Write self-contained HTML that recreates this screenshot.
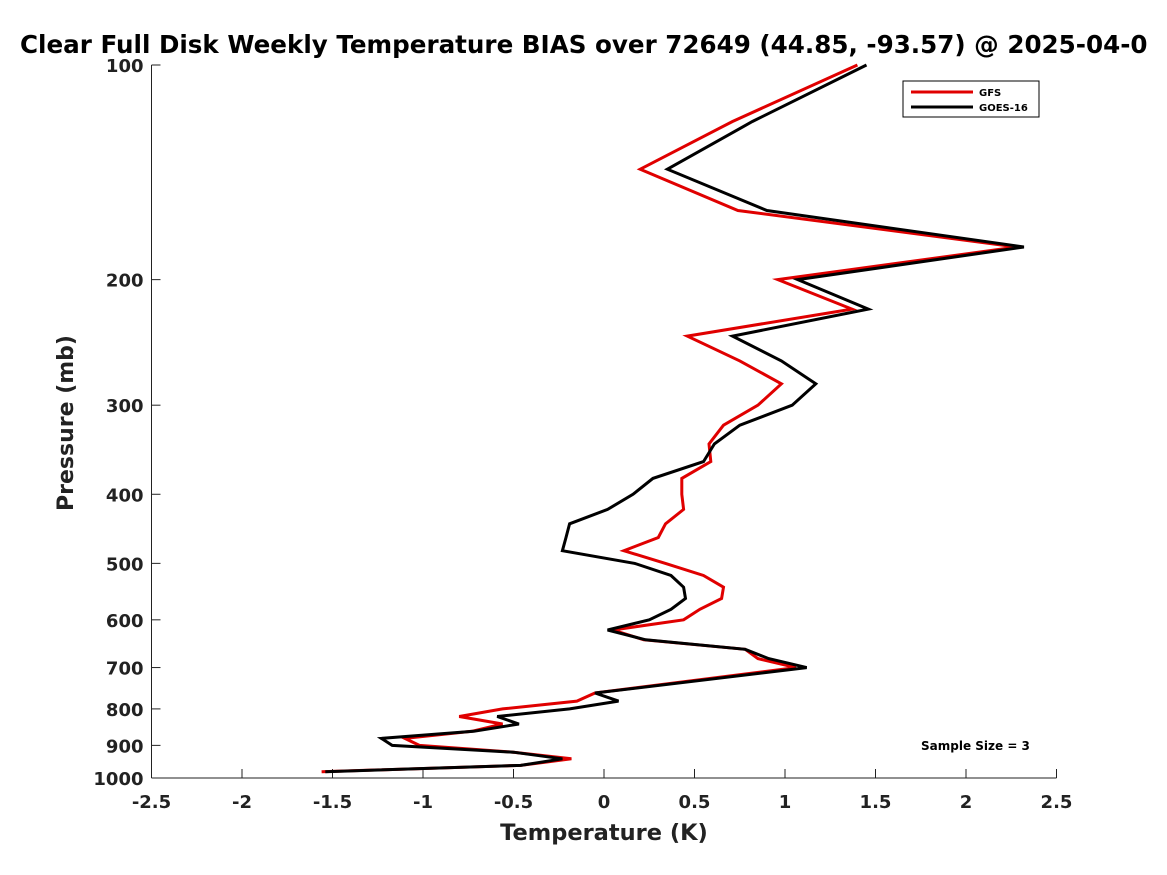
<!DOCTYPE html>
<html><head><meta charset="utf-8"><style>
html,body{margin:0;padding:0;background:#fff;overflow:hidden;}
svg{display:block;font-family:"DejaVu Sans","Liberation Sans",sans-serif;font-weight:bold;}
</style></head><body>
<svg id="chart" width="1167" height="875" viewBox="0 0 1167 875">
<text x="20" y="53" font-size="24.6" fill="#000">Clear Full Disk Weekly Temperature BIAS over 72649 (44.85, -93.57) @ 2025-04-0</text>
<g id="axes"></g>
<g id="series"></g>
<g>
<rect x="903" y="81" width="136" height="36" fill="#fff" stroke="#000" stroke-width="1"/>
<line x1="911" y1="92" x2="973" y2="92" stroke="#e00000" stroke-width="3"/>
<text x="979" y="96" font-size="10">GFS</text>
<line x1="911" y1="107" x2="973" y2="107" stroke="#000" stroke-width="3"/>
<text x="979" y="111" font-size="10">GOES-16</text>
</g>
<text x="921" y="750" font-size="12">Sample Size = 3</text>
<text x="604" y="840" font-size="22.5" text-anchor="middle" fill="#222">Temperature (K)</text>
<text transform="translate(73,423) rotate(-90)" font-size="22" text-anchor="middle" fill="#222">Pressure (mb)</text>
</svg>
<script>
const levels=[100,120,140,160,180,200,220,240,260,280,300,320,340,360,380,400,420,440,460,480,500,520,540,560,580,600,620,640,660,680,700,760,780,800,820,840,860,880,900,920,940,960,980];
const gfsBias=[1.40,0.71,0.20,0.74,2.28,0.96,1.37,0.46,0.75,0.98,0.85,0.66,0.58,0.59,0.43,0.43,0.44,0.34,0.30,0.11,0.34,0.55,0.66,0.65,0.53,0.44,0.05,0.22,0.78,0.85,1.06,-0.05,-0.15,-0.56,-0.80,-0.56,-0.73,-1.10,-1.02,-0.50,-0.18,-0.46,-1.56];
const goesBias=[1.45,0.82,0.35,0.90,2.32,1.07,1.46,0.71,0.98,1.17,1.04,0.75,0.61,0.55,0.27,0.16,0.02,-0.19,-0.21,-0.23,0.17,0.37,0.44,0.45,0.37,0.25,0.02,0.23,0.78,0.91,1.12,-0.05,0.08,-0.19,-0.59,-0.47,-0.72,-1.23,-1.17,-0.50,-0.23,-0.46,-1.54];
const xTicks=[-2.5,-2,-1.5,-1,-0.5,0,0.5,1,1.5,2,2.5];
const xTickLabels=["-2.5","-2","-1.5","-1","-0.5","0","0.5","1","1.5","2","2.5"];
const yTicks=[100,200,300,400,500,600,700,800,900,1000];
const yTickLabels=["100","200","300","400","500","600","700","800","900","1000"];
const NS='http://www.w3.org/2000/svg';
const X0=151.5,X1=1056.5,Y0=65,Y1=778;
function xs(v){return X0+(v+2.5)/5*(X1-X0);}
function ys(p){return Y0+(Math.log10(p)-2)*(Y1-Y0);}
function mk(t,a,parent){const e=document.createElementNS(NS,t);for(const k in a)e.setAttribute(k,a[k]);parent.appendChild(e);return e;}
const axes=document.getElementById('axes');
let l=mk('line',{x1:X0,y1:Y0,x2:X0,y2:Y1,stroke:'#222','stroke-width':1},axes);


l=mk('line',{x1:X0,y1:Y1,x2:X1,y2:Y1,stroke:'#222','stroke-width':1},axes);


xTicks.forEach((v,i)=>{
 const t=mk('line',{x1:xs(v),y1:Y1,x2:xs(v),y2:Y1-9,stroke:'#222','stroke-width':1},axes);
 
 
 const tx=mk('text',{x:xs(v),y:Y1+30,'font-size':18,'text-anchor':'middle',fill:'#222'},axes);
 tx.textContent=xTickLabels[i];
 
 
});
yTicks.forEach((p,i)=>{
 const t=mk('line',{x1:X0,y1:ys(p),x2:X0+9,y2:ys(p),stroke:'#222','stroke-width':1},axes);
 
 
 const tx=mk('text',{x:X0-8,y:ys(p)+7,'font-size':18,'text-anchor':'end',fill:'#222'},axes);
 tx.textContent=yTickLabels[i];
 
 
});
const ser=document.getElementById('series');
function line(vals,color,name){
 const pts=vals.map((v,i)=>xs(v).toFixed(1)+','+ys(levels[i]).toFixed(1)).join(' ');
 const pl=mk('polyline',{points:pts,fill:'none',stroke:color,'stroke-width':3,'stroke-linejoin':'miter'},ser);
 
 
}
line(gfsBias,'#e00000','gfs-line');
line(goesBias,'#000','goes16-line');
</script>
</body></html>
